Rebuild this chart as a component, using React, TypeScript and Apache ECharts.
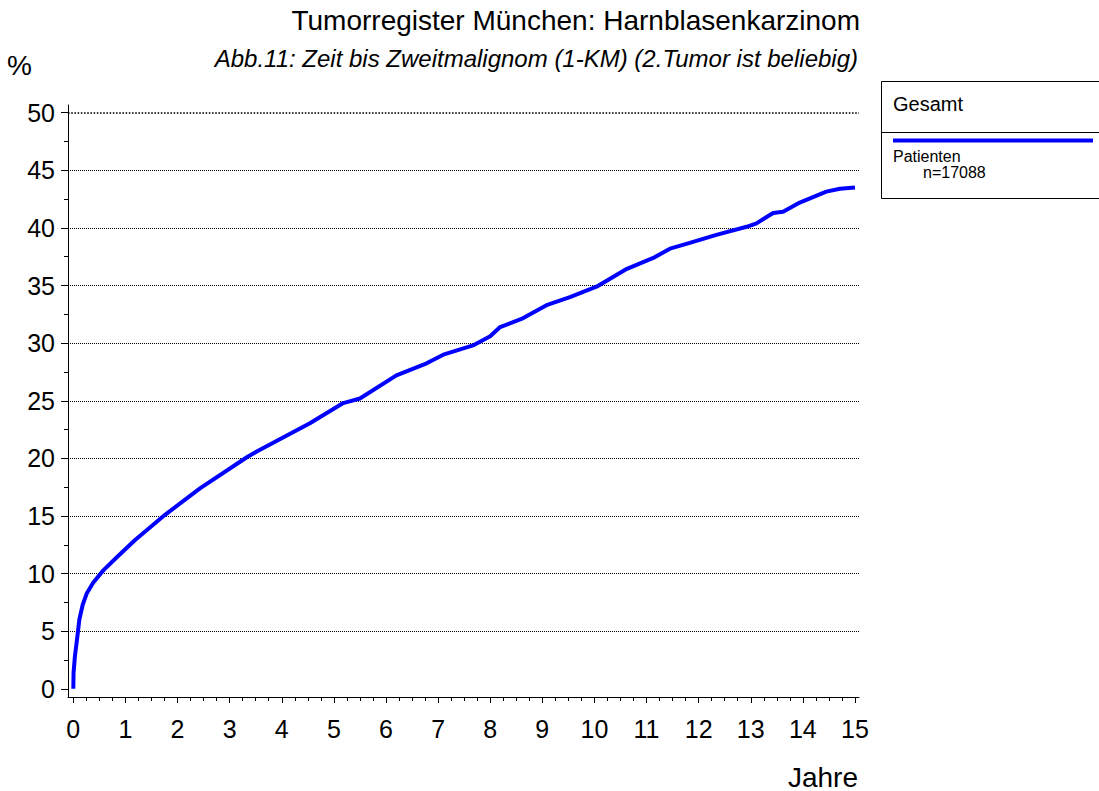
import React, { useEffect, useRef } from "react";
import * as echarts from "echarts";

const years = [0, 0.005, 0.03, 0.077, 0.115, 0.18, 0.26, 0.38, 0.58, 0.83, 1.18, 1.76, 2.43, 3.33, 3.52, 4.54, 5.18, 5.5, 6.2, 6.78, 7.1, 7.67, 8.0, 8.19, 8.6, 9.08, 9.53, 10.04, 10.6, 11.13, 11.45, 11.83, 12.34, 12.92, 13.11, 13.43, 13.62, 13.94, 14.45, 14.71, 15.0];
const percent = [0, 1.4, 2.8, 4.5, 6.0, 7.3, 8.3, 9.2, 10.3, 11.4, 12.9, 15.1, 17.4, 20.1, 20.6, 23.05, 24.8, 25.2, 27.2, 28.25, 29.0, 29.8, 30.6, 31.4, 32.1, 33.3, 34.0, 34.9, 36.4, 37.4, 38.2, 38.7, 39.4, 40.1, 40.4, 41.3, 41.4, 42.2, 43.15, 43.4, 43.5];

const xLabels = [0, 1, 2, 3, 4, 5, 6, 7, 8, 9, 10, 11, 12, 13, 14, 15];
const xMinorTicks = [0.25, 0.5, 0.75, 1.25, 1.5, 1.75, 2.25, 2.5, 2.75, 3.25, 3.5, 3.75, 4.25, 4.5, 4.75, 5.25, 5.5, 5.75, 6.25, 6.5, 6.75, 7.25, 7.5, 7.75, 8.25, 8.5, 8.75, 9.25, 9.5, 9.75, 10.25, 10.5, 10.75, 11.25, 11.5, 11.75, 12.25, 12.5, 12.75, 13.25, 13.5, 13.75, 14.25, 14.5, 14.75];
const yLabels = [0, 5, 10, 15, 20, 25, 30, 35, 40, 45, 50];
const yMinorTicks = [2.5, 7.5, 12.5, 17.5, 22.5, 27.5, 32.5, 37.5, 42.5, 47.5];
const gridValues = [5, 10, 15, 20, 25, 30, 35, 40, 45, 50];

const title = "Tumorregister München: Harnblasenkarzinom";
const subtitle = "Abb.11: Zeit bis Zweitmalignom (1-KM) (2.Tumor ist beliebig)";
const legendTitle = "Gesamt";
const seriesName = "Patienten";
const seriesCount = "n=17088";

const FONT = "'Liberation Sans', Arial, Helvetica, sans-serif";

export default function App() {
  const ref = useRef<HTMLDivElement>(null);
  useEffect(() => {
    if (!ref.current) return;
    const chart = echarts.init(ref.current, null, { renderer: "svg" });
    const data = years.map((t, i) => [t, percent[i]]);
    const option: any = {
      animation: false,
      backgroundColor: "#fff",
      textStyle: { fontFamily: FONT },
      grid: { left: 68, right: 240, top: 105, bottom: 94, containLabel: false },
      xAxis: [
        {
          type: "value",
          min: -0.102,
          max: 15.077,
          position: "bottom",
          axisLine: { show: true, onZero: false, lineStyle: { color: "#000", width: 1 } },
          axisTick: { show: true, length: 6, customValues: xLabels, lineStyle: { color: "#000" } },
          axisLabel: { show: true, customValues: xLabels, margin: 19, fontSize: 25, color: "#000", fontFamily: FONT },
          splitLine: { show: false },
        },
        {
          type: "value",
          min: -0.102,
          max: 15.077,
          position: "bottom",
          offset: 0,
          axisLine: { show: false, onZero: false },
          axisTick: { show: true, length: 4, customValues: xMinorTicks, lineStyle: { color: "#000" } },
          axisLabel: { show: false },
          splitLine: { show: false },
        },
      ],
      yAxis: [
        {
          type: "value",
          min: -0.71,
          max: 50.67,
          position: "left",
          axisLine: { show: true, onZero: false, lineStyle: { color: "#000", width: 1 } },
          axisTick: { show: true, length: 7, customValues: yLabels, lineStyle: { color: "#000" } },
          axisLabel: { show: true, customValues: yLabels, margin: 13, fontSize: 25, color: "#000", fontFamily: FONT },
          splitLine: { show: false },
        },
        {
          type: "value",
          min: -0.71,
          max: 50.67,
          position: "left",
          offset: 0,
          axisLine: { show: false, onZero: false },
          axisTick: { show: true, length: 4, customValues: yMinorTicks, lineStyle: { color: "#000" } },
          axisLabel: { show: false },
          splitLine: { show: false },
        },
      ],
      series: [
        {
          name: seriesName,
          type: "line",
          xAxisIndex: 0,
          yAxisIndex: 0,
          data,
          showSymbol: false,
          symbol: "none",
          smooth: false,
          lineStyle: { color: "#0000ff", width: 4 },
          z: 5,
          markLine: {
            silent: true,
            symbol: "none",
            label: { show: false },
            emphasis: { disabled: true },
            data: gridValues.map((v) => ({
              yAxis: v,
              lineStyle: { color: "#000", width: v === 50 ? 1.6 : 1, type: v === 50 ? [1.6, 1.6] : [1, 1] },
            })),
          },
        },
      ],
      graphic: [
        {
          type: "text",
          x: 860,
          y: 20,
          style: { text: title, fontSize: 28, fill: "#000", align: "right", verticalAlign: "middle", fontFamily: FONT },
        },
        {
          type: "text",
          x: 858,
          y: 58,
          style: { text: subtitle, fontSize: 24, fontStyle: "italic", fill: "#000", align: "right", verticalAlign: "middle", fontFamily: FONT },
        },
        {
          type: "text",
          x: 7,
          y: 65,
          style: { text: "%", fontSize: 28, fill: "#000", align: "left", verticalAlign: "middle", fontFamily: FONT },
        },
        {
          type: "text",
          x: 858,
          y: 777,
          style: { text: "Jahre", fontSize: 28, fill: "#000", align: "right", verticalAlign: "middle", fontFamily: FONT },
        },
        {
          type: "rect",
          shape: { x: 881.5, y: 81.5, width: 240, height: 117 },
          style: { fill: "#fff", stroke: "#000", lineWidth: 1 },
        },
        {
          type: "line",
          shape: { x1: 881.5, y1: 132.5, x2: 1099, y2: 132.5 },
          style: { stroke: "#000", lineWidth: 1 },
        },
        {
          type: "line",
          shape: { x1: 893, y1: 140.5, x2: 1093, y2: 140.5 },
          style: { stroke: "#0000ff", lineWidth: 4 },
        },
        {
          type: "text",
          x: 893,
          y: 104,
          style: { text: legendTitle, fontSize: 20, fill: "#000", align: "left", verticalAlign: "middle", fontFamily: FONT },
        },
        {
          type: "text",
          x: 893,
          y: 156.5,
          style: { text: seriesName, fontSize: 16, fill: "#000", align: "left", verticalAlign: "middle", fontFamily: FONT },
        },
        {
          type: "text",
          x: 923,
          y: 172.5,
          style: { text: seriesCount, fontSize: 16, fill: "#000", align: "left", verticalAlign: "middle", fontFamily: FONT },
        },
      ],
    };
    chart.setOption(option);
    return () => chart.dispose();
  }, []);
  return (
    <div
      ref={ref}
      style={{ position: "fixed", left: 0, top: 0, width: 1099, height: 791, background: "#fff" }}
    />
  );
}
